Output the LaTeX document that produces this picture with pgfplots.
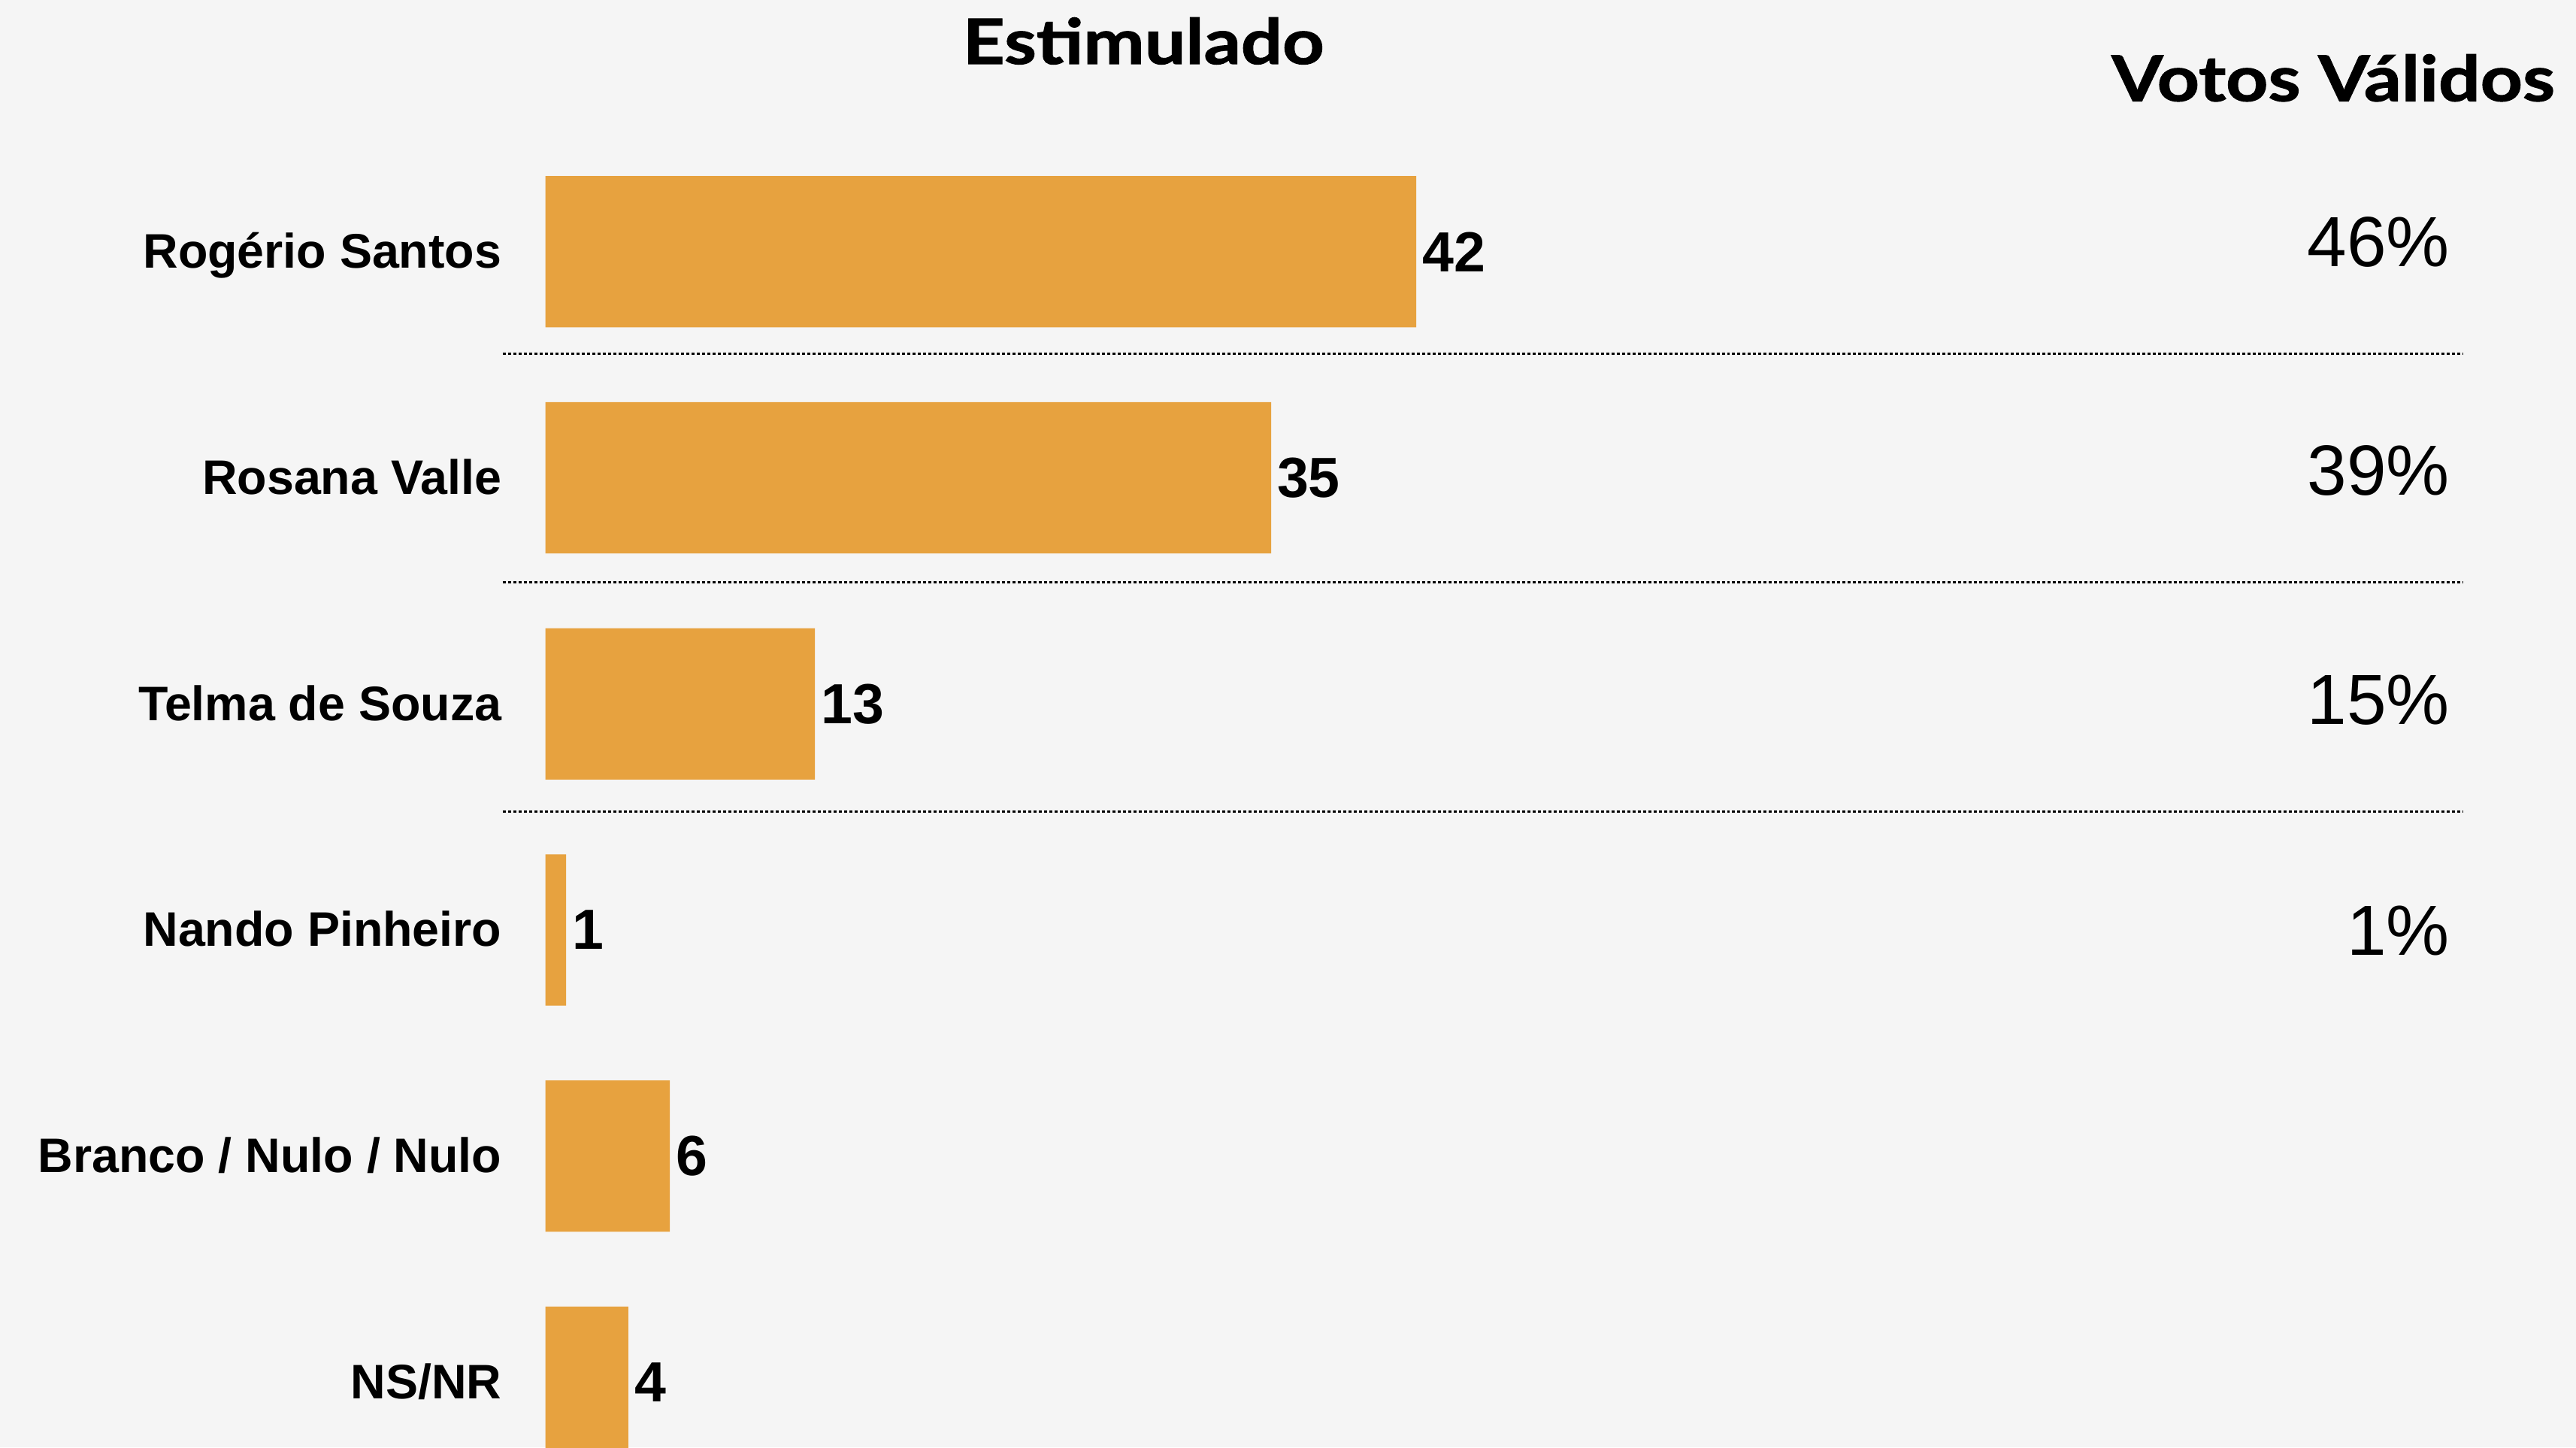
\documentclass[border=0pt]{standalone}
\usepackage{pgfplots}
\pgfplotsset{compat=1.18}
\usepackage{fontspec}
\setmainfont{Liberation Sans}
\newfontfamily\titlefont{Lato}[FakeStretch=1.17, BoldFeatures={FakeBold=1.5}]
\definecolor{barcol}{RGB}{231,162,63}
\definecolor{bgcol}{RGB}{245,245,245}

\begin{document}
\begin{tikzpicture}
\path[use as bounding box] (0mm,0mm) rectangle (156.8mm,88.1mm);
\clip (0mm,0mm) rectangle (156.8mm,88.1mm);
\fill[bgcol] (0mm,0mm) rectangle (156.8mm,88.1mm);

\begin{axis}[
    at={(33.2mm,0mm)}, anchor=south west,
    scale only axis,
    width=116.8mm, height=88.1mm,
    xmin=0, xmax=92.55,
    ymin=-1.113, ymax=5.289,
    y dir=reverse,
    axis line style={draw=none},
    tick style={draw=none},
    xtick=\empty,
    ytick={0,1,2,3,4,5},
    yticklabels={Rogério Santos,Rosana Valle,Telma de Souza,Nando Pinheiro,{Branco / Nulo / Nulo\hspace{0.4mm}},NS/NR},
    yticklabel style={font=\fontsize{8.4}{9}\selectfont\bfseries, anchor=base east,
        inner sep=0pt, xshift=-2.6mm, yshift=-1.0mm},
    clip=false,
    /pgf/number format/assume math mode=true,
]
% Estimulado
\addplot[xbar, bar width=0.669, fill=barcol, draw=none, point meta=x,
    nodes near coords,
    nodes near coords style={font=\fontsize{9.8}{10}\selectfont\bfseries, text=black,
        anchor=west, inner sep=0pt, xshift=0.3mm}]
    coordinates {(42,0) (35,1) (13,2) (1,3) (6,4) (4,5)};

% Votos validos
\addplot[draw=none, mark=none, point meta=explicit symbolic,
    nodes near coords,
    nodes near coords style={font=\fontsize{12.3}{13}\selectfont, text=black,
        anchor=base east, inner sep=0pt, yshift=-1.4mm}]
    coordinates {(91.9,-0.035)[46\%] (91.9,0.976)[39\%] (91.9,1.99)[15\%] (91.9,3.008)[1\%]};

\draw[line width=0.35pt, dash pattern=on 0.52pt off 0.39pt] (axis cs:-2.06,0.452) -- (axis cs:92.47,0.452);
\draw[line width=0.35pt, dash pattern=on 0.52pt off 0.39pt] (axis cs:-2.06,1.463) -- (axis cs:92.47,1.463);
\draw[line width=0.35pt, dash pattern=on 0.52pt off 0.39pt] (axis cs:-2.06,2.475) -- (axis cs:92.47,2.475);
\end{axis}

\node[anchor=base, inner sep=0pt, font=\titlefont\fontsize{10.8}{12}\selectfont\bfseries]
    at (69.6mm,84.21mm) {Estimulado};
\node[anchor=base east, inner sep=0pt, font=\titlefont\fontsize{10.9}{12}\selectfont\bfseries]
    at (155.57mm,81.95mm) {Votos Válidos};
\end{tikzpicture}
\end{document}
